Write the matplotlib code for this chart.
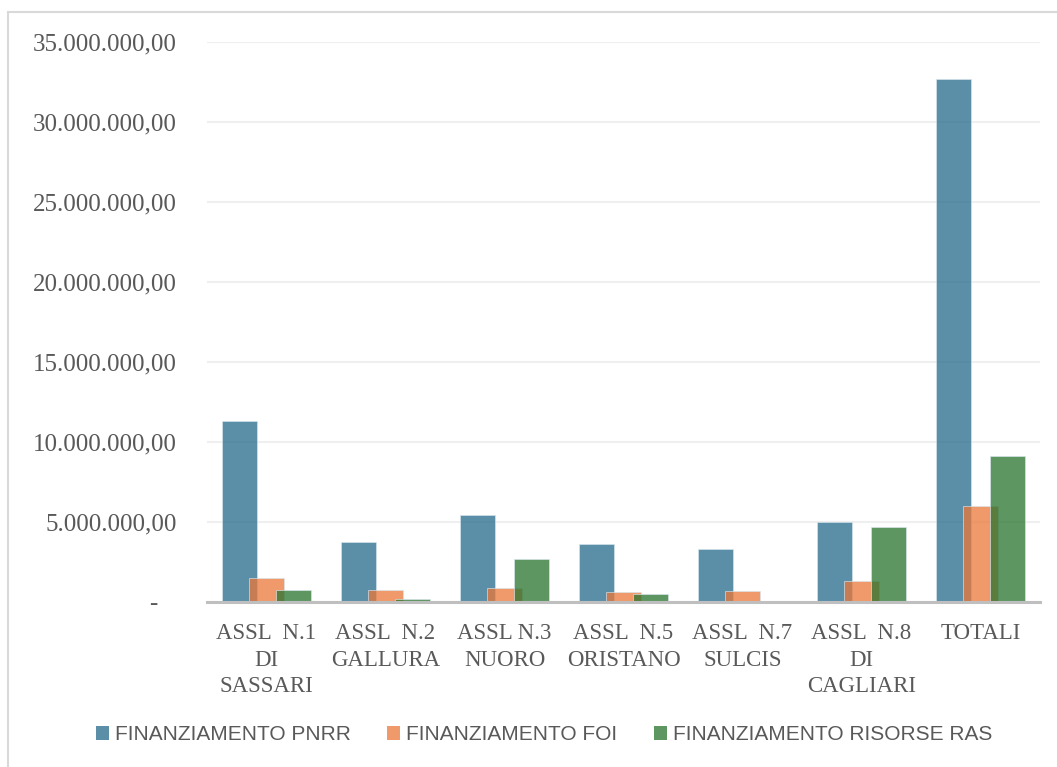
import matplotlib
matplotlib.use("Agg")
import matplotlib.pyplot as plt
import numpy as np
from matplotlib.ticker import FuncFormatter, MultipleLocator
from matplotlib.patches import Patch
from matplotlib.lines import Line2D

categories = ["ASSL  N.1\nDI\nSASSARI", "ASSL  N.2\nGALLURA", "ASSL N.3\nNUORO",
              "ASSL  N.5\nORISTANO", "ASSL  N.7\nSULCIS", "ASSL  N.8\nDI\nCAGLIARI", "TOTALI"]
pnrr = [11330000, 3770000, 5440000, 3600000, 3330000, 5000000, 32700000]
foi = [1520000, 750000, 850000, 620000, 660000, 1310000, 6020000]
ras = [750000, 170000, 2690000, 500000, 0, 4710000, 9100000]
series_names = ["FINANZIAMENTO PNRR", "FINANZIAMENTO FOI", "FINANZIAMENTO RISORSE RAS"]

colors = ["#246A8B", "#EB7738", "#28732E"]
legend_colors = ["#5B8FA8", "#F0996A", "#5E9662"]
alpha = 0.75
text_gray = "#595959"

W, H = 1057, 767
fig = plt.figure(figsize=(W / 100, H / 100), dpi=100)
ax = fig.add_axes([207 / W, (H - 602) / H, (1040 - 207) / W, (602 - 42) / H])

x = np.arange(len(categories))
bw = 0.30
off = 0.227
for i, (vals, c) in enumerate(zip([pnrr, foi, ras], colors)):
    ax.bar(x + (i - 1) * off, vals, width=bw, color=c, alpha=alpha,
           edgecolor="#d8e6ee", linewidth=0.6, zorder=3 + i)

ax.set_xlim(-0.5, len(categories) - 0.5)
ax.set_ylim(0, 35000000)
ax.yaxis.set_major_locator(MultipleLocator(5000000))


def it_fmt(v, pos):
    if abs(v) < 1:
        return "-   "
    s = f"{v:,.2f}"
    return s.replace(",", "X").replace(".", ",").replace("X", ".")


ax.yaxis.set_major_formatter(FuncFormatter(it_fmt))
ax.grid(axis="y", color="#EFEFEF", linewidth=1.5, zorder=0)
ax.set_axisbelow(True)
for s in ["top", "right", "left"]:
    ax.spines[s].set_visible(False)
ax.spines["bottom"].set_color("#BFBFBF")
ax.spines["bottom"].set_linewidth(2.2)
ax.spines["bottom"].set_zorder(10)

ax.tick_params(axis="y", length=0, pad=21.6, labelsize=18, labelcolor=text_gray)
ax.tick_params(axis="x", length=0, pad=15, labelcolor=text_gray)
for lab in ax.get_yticklabels():
    lab.set_fontfamily("Liberation Serif")
ax.set_xticks(x)
ax.set_xticklabels(categories, fontsize=16.5, fontfamily="Liberation Serif",
                   linespacing=1.36, color=text_gray)

# chart border (left and top)
fig.add_artist(Line2D([8 / W, 8 / W], [0, (H - 12) / H], color="#D9D9D9", lw=1.5,
                      transform=fig.transFigure))
fig.add_artist(Line2D([8 / W, 1], [(H - 12) / H, (H - 12) / H], color="#D9D9D9", lw=1.5,
                      transform=fig.transFigure))

handles = [Patch(facecolor=c, edgecolor="none") for c in legend_colors]
fig.legend(handles, series_names, loc="center", bbox_to_anchor=(544 / W, (H - 735) / H),
           ncol=3, frameon=False, prop={"family": "Liberation Sans", "size": 15},
           labelcolor=text_gray, handlelength=0.62, handleheight=0.62,
           handletextpad=0.3, columnspacing=1.75)

fig.savefig("out.png", dpi=100)
